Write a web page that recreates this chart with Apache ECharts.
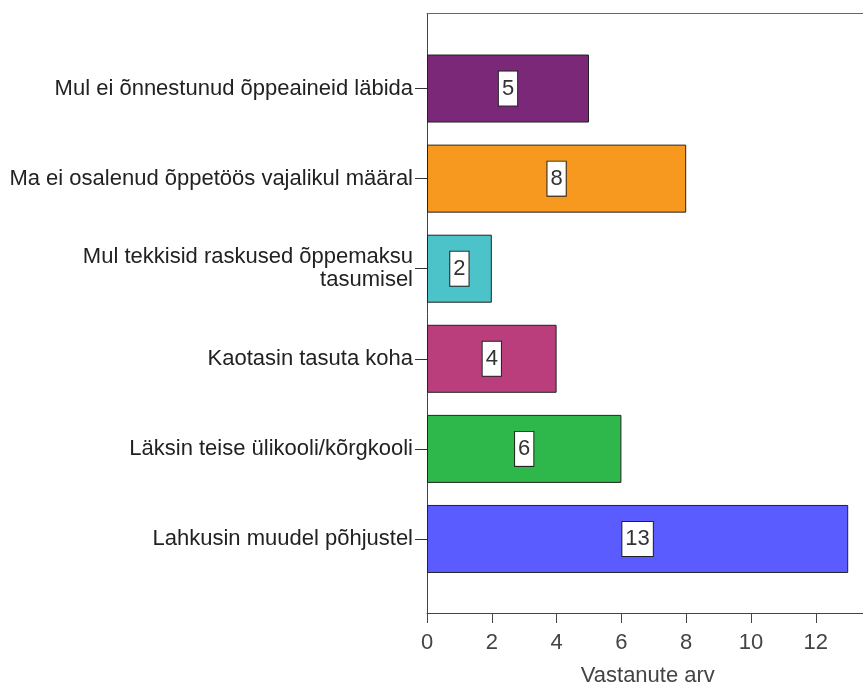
<!DOCTYPE html>
<html>
<head>
<meta charset="utf-8">
<script src="https://cdn.jsdelivr.net/npm/echarts@6/dist/echarts.min.js"></script>
<style>html,body{margin:0;padding:0;background:#fff;overflow:hidden}#c{width:863px;height:689px}</style>
</head>
<body>
<div id="c"></div>
<script>
const categories = [
  "Mul ei õnnestunud õppeaineid läbida",
  "Ma ei osalenud õppetöös vajalikul määral",
  "Mul tekkisid raskused õppemaksu\ntasumisel",
  "Kaotasin tasuta koha",
  "Läksin teise ülikooli/kõrgkooli",
  "Lahkusin muudel põhjustel"
];
const values = [5, 8, 2, 4, 6, 13];
const barColors = ["#7B2878", "#F8991F", "#4CC3C9", "#BA3E7C", "#2EB84B", "#5A5CFF"];
const xTicks = { min: 0, max: 14, interval: 2 };
const xAxisName = "Vastanute arv";

const FONT = "'Liberation Sans', Arial, sans-serif";
const FS = 22;
const chart = echarts.init(document.getElementById('c'), null, { renderer: 'canvas' });
const W = 453.6;
chart.setOption({
  animation: false,
  backgroundColor: '#fff',
  grid: [
    { left: 427, top: 43.5, width: W, height: 540.5, outerBoundsMode: 'none', containLabel: false },
    { left: 427, top: 13.5, width: W, height: 599.5, outerBoundsMode: 'none', containLabel: false }
  ],
  xAxis: [
    { gridIndex: 0, type: 'value', min: xTicks.min, max: xTicks.max, show: false },
    { gridIndex: 1, type: 'value', position: 'bottom', min: xTicks.min, max: xTicks.max, interval: xTicks.interval,
      axisLine: { show: true, lineStyle: { color: '#444', width: 1 } },
      axisTick: { show: true, length: 10, lineStyle: { color: '#444' } },
      axisLabel: { show: true, margin: 19, color: '#444', fontSize: FS, fontFamily: FONT, showMaxLabel: false },
      splitLine: { show: false },
      name: xAxisName, nameLocation: 'middle', nameGap: 52,
      nameTextStyle: { color: '#444', fontSize: FS, fontFamily: FONT, padding: [0, 12, 0, 0] }
    },
    { gridIndex: 1, type: 'value', position: 'top', min: xTicks.min, max: xTicks.max,
      axisLine: { show: true, lineStyle: { color: '#666', width: 1 } },
      axisTick: { show: false }, axisLabel: { show: false }, splitLine: { show: false }
    }
  ],
  yAxis: [
    { gridIndex: 0, type: 'category', inverse: true, data: categories,
      axisLine: { show: false },
      axisTick: { show: true, alignWithLabel: true, length: 12, lineStyle: { color: '#333' } },
      axisLabel: { margin: 14, color: '#222', fontSize: FS, fontFamily: FONT, align: 'right', lineHeight: 23 },
      splitLine: { show: false }
    },
    { gridIndex: 1, type: 'value', position: 'left', min: 0, max: 1,
      axisLine: { show: true, onZero: false, lineStyle: { color: '#444', width: 1 } },
      axisTick: { show: false }, axisLabel: { show: false }, splitLine: { show: false }
    }
  ],
  series: [{
    type: 'bar', xAxisIndex: 0, yAxisIndex: 0,
    barWidth: 68,
    data: values.map((v, i) => ({ value: v, itemStyle: { color: barColors[i] } })),
    itemStyle: { borderColor: '#222', borderWidth: 1 },
    label: {
      show: true, position: 'inside', color: '#333', fontSize: FS, fontFamily: FONT,
      backgroundColor: '#fff', borderColor: '#222', borderWidth: 1, padding: [6, 3, 6, 3]
    }
  }]
});
</script>
</body>
</html>
